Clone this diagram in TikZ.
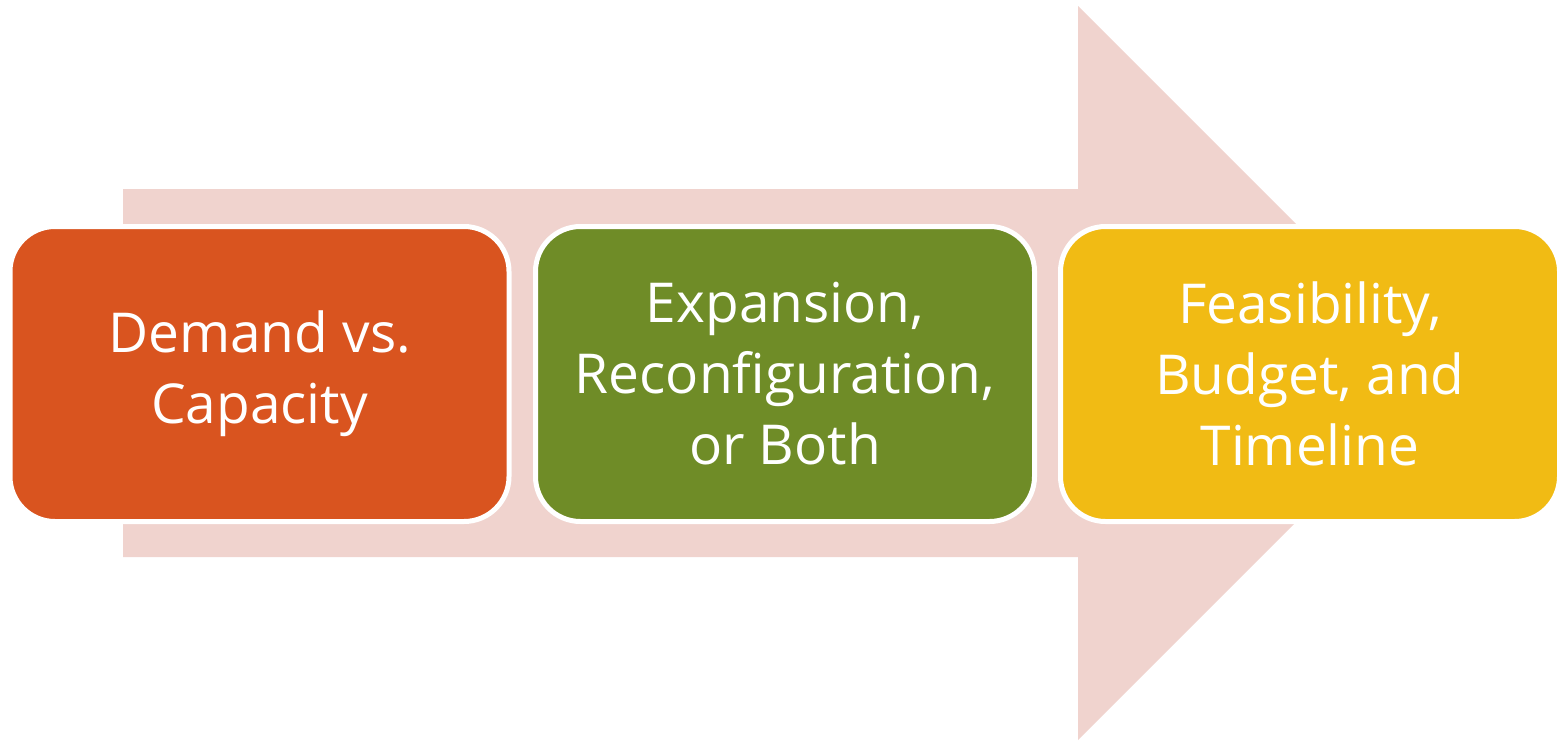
\documentclass[tikz,border=0pt]{standalone}
\usepackage{fontspec}
\setmainfont{Open Sans}
\usepackage{xcolor}
\usetikzlibrary{positioning}

\definecolor{arrowpink}{HTML}{F0D3CE}
\definecolor{demandred}{HTML}{D9541F}
\definecolor{optiongreen}{HTML}{6F8C27}
\definecolor{budgetyellow}{HTML}{F1BB14}

\begin{document}
\begin{tikzpicture}[
        x=1pt,
        y=-1pt,
        stage/.style={
            rectangle,
            draw=white,
            line width=5pt,
            rounded corners=45pt,
            minimum width=499pt,
            minimum height=295pt,
            inner sep=0pt,
            align=center,
            text=white,
            font=\fontsize{55}{71}\selectfont
        },
        ]

        \useasboundingbox (0,0) rectangle (1557,742);

        % big arrow behind
        \fill [arrowpink] (123,189) -- (1078,189) -- (1078,6) -- (1445,373)
            -- (1078,740) -- (1078,557) -- (123,557) -- cycle;

        \node [stage,fill=demandred] (demand) at (259.5,374) {Demand vs.\\Capacity};
        \node [stage,fill=optiongreen] (expansion) at (785,374) {Expansion,\\Reconfiguration,\\or Both};
        \node [stage,fill=budgetyellow] (feasibility) at (1310,374) {Feasibility,\\Budget, and\\Timeline};
    \end{tikzpicture}
\end{document}
